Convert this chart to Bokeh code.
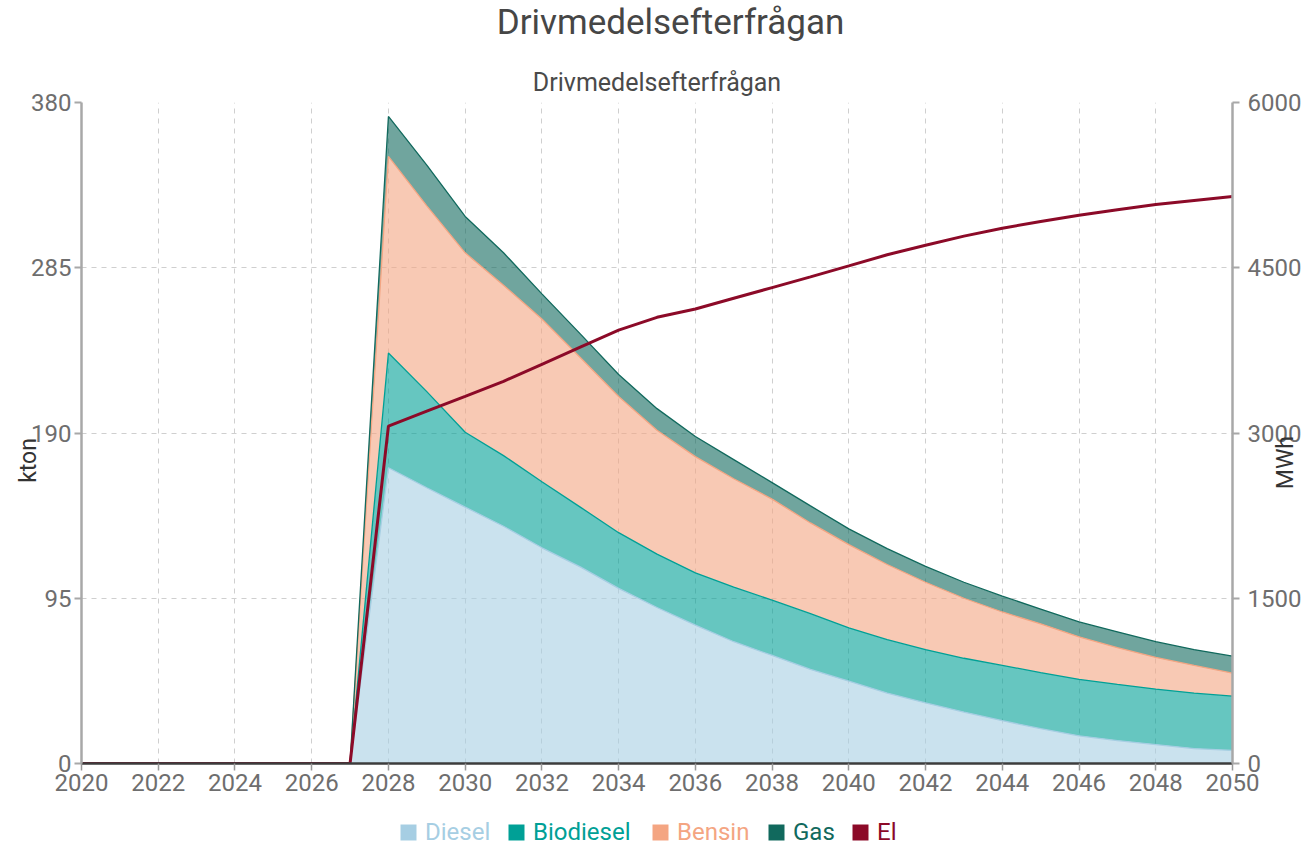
import math
from bokeh.plotting import figure
from bokeh.layouts import column
from bokeh.models import (Range1d, LinearAxis, FixedTicker, Label, Legend, LegendItem,
                          ColumnDataSource)
from bokeh.embed import file_html
from bokeh.resources import INLINE
from bokeh.transform import stack

# ---- data -------------------------------------------------------------
years = list(range(2020, 2051))
diesel = [0, 0, 0, 0, 0, 0, 0, 0,
          170.0, 158.5, 147.4, 136.4, 124.0, 113.0, 100.7, 89.7, 79.5, 70.0,
          62.1, 54.1, 47.3, 40.5, 34.8, 29.6, 24.6, 20.0, 15.9, 13.2, 10.9, 8.6, 7.5]
biodiesel = [0, 0, 0, 0, 0, 0, 0, 0,
             66.0, 55.3, 43.0, 40.6, 38.0, 34.4, 32.0, 30.7, 30.1, 31.4,
             31.8, 32.0, 30.7, 30.7, 30.7, 30.9, 31.8, 32.3, 32.5, 32.3, 31.9, 31.9, 31.2]
bensin = [0, 0, 0, 0, 0, 0, 0, 0,
          113.0, 106.8, 103.2, 98.0, 93.5, 86.0, 78.3, 71.2, 66.8, 62.3,
          58.1, 52.2, 47.8, 43.2, 38.7, 34.5, 30.7, 28.0, 24.4, 21.1, 18.2, 15.9, 13.2]
gas = [0, 0, 0, 0, 0, 0, 0, 0,
       23.0, 23.4, 20.9, 18.6, 14.5, 13.6, 12.6, 12.4, 11.6, 11.0,
       9.5, 9.8, 9.1, 9.1, 9.1, 9.2, 9.1, 8.5, 8.6, 9.1, 9.0, 9.1, 9.8]
el = [0, 0, 0, 0, 0, 0, 0, 0,
      3062, 3198, 3333, 3469, 3624, 3779, 3934, 4050, 4125, 4223,
      4320, 4417, 4517, 4618, 4704, 4787, 4859, 4920, 4977, 5027, 5074, 5110, 5146]

series_names = ["Diesel", "Biodiesel", "Bensin", "Gas"]
series_keys = ["diesel", "biodiesel", "bensin", "gas"]
series_colors = ["#a6cee3", "#00a096", "#f4a582", "#11695d"]
el_name = "El"
el_color = "#8c0a28"

left_ticks = [0, 95, 190, 285, 380]
right_ticks = [0, 1500, 3000, 4500, 6000]
x_ticks = list(range(2020, 2051, 2))

title_text = "Drivmedelsefterfrågan"
subtitle_text = "Drivmedelsefterfrågan"
left_label = "kton"
right_label = "MWh"

FONT = "Roboto"
TICK_COLOR = "#6e6e6e"
TICK_SIZE = "24px"
W = 1300

src = ColumnDataSource(dict(year=years, diesel=diesel, biodiesel=biodiesel,
                            bensin=bensin, gas=gas, el=el))

# ---- top strip with the main title -----------------------------------
top = figure(width=W, height=50, output_backend="svg", toolbar_location=None,
             x_axis_location=None, y_axis_location=None, min_border=0,
             x_range=Range1d(0, 1), y_range=Range1d(0, 1))
top.outline_line_color = None
top.grid.visible = False
top.add_layout(Label(x=589, y=28, x_units="screen", y_units="screen", text=title_text,
                     text_font=FONT, text_font_size="35px", text_color="#464646",
                     text_align="center", text_baseline="middle"))

# ---- main chart -------------------------------------------------------
p = figure(frame_width=1151, frame_height=661, x_range=Range1d(2020, 2050), y_range=Range1d(0, 380),
           output_backend="svg", toolbar_location=None,
           min_border_left=81, min_border_right=0, min_border_top=52, min_border_bottom=50)
p.title.text = subtitle_text
p.title.align = "center"
p.title.offset = 13
p.title.standoff = 11
p.title.text_font = FONT
p.title.text_font_size = "25px"
p.title.text_font_style = "normal"
p.title.text_color = "#4a4a4a"
p.outline_line_color = None

p.extra_y_ranges = {"el": Range1d(0, 6000)}

for g, tk in ((p.xgrid, x_ticks), (p.ygrid, left_ticks)):
    g.ticker = FixedTicker(ticks=tk)
    g.grid_line_color = "#cfcfcf"
    g.grid_line_dash = "5 5"
    g.grid_line_width = 1

xa = p.xaxis[0]
xa.ticker = FixedTicker(ticks=x_ticks)
xa.axis_line_color = "#3c3c3c"
xa.axis_line_width = 2.5
xa.major_tick_line_color = "#999999"
xa.major_tick_line_width = 1.5
xa.major_tick_out = 7
xa.major_tick_in = 0
xa.minor_tick_line_color = None
xa.major_label_text_font = FONT
xa.major_label_text_font_size = TICK_SIZE
xa.major_label_text_color = TICK_COLOR
xa.major_label_standoff = 3


def style_y(ax, standoff):
    ax.axis_line_color = "#a8a8a8"
    ax.axis_line_width = 2.5
    ax.major_tick_line_color = "#a8a8a8"
    ax.major_tick_line_width = 2
    ax.major_tick_out = 7
    ax.major_tick_in = 0
    ax.minor_tick_line_color = None
    ax.major_label_text_font = FONT
    ax.major_label_text_font_size = TICK_SIZE
    ax.major_label_text_color = TICK_COLOR
    ax.major_label_standoff = standoff


ya = p.yaxis[0]
ya.ticker = FixedTicker(ticks=left_ticks)
style_y(ya, 3)

ra = LinearAxis(y_range_name="el", ticker=FixedTicker(ticks=right_ticks))
style_y(ra, 8)
p.add_layout(ra, "right")

# axis names as labels in the side panels (overlapping the tick labels like the original)
p.add_layout(Label(x=2018.62, y=174.2, text=left_label,
                   angle=math.pi / 2, text_font=FONT, text_font_size="23px", text_color="#333333",
                   text_align="center", text_baseline="middle"), "left")
p.add_layout(Label(x=2051.38, y=173.0, text=right_label,
                   angle=math.pi / 2, text_font=FONT, text_font_size="23px", text_color="#333333",
                   text_align="center", text_baseline="middle"), "right")

p.varea_stack(stackers=series_keys, x="year", color=series_colors, fill_alpha=0.6, source=src)
for i, c in enumerate(series_colors):
    p.line(x="year", y=stack(*series_keys[:i + 1]), line_color=c, line_width=1.3, source=src)

p.line(x="year", y="el", y_range_name="el", line_color=el_color, line_width=3, source=src)

# ---- bottom strip with legend (one legend per entry, own text colour) --
bot = figure(width=W, height=33, output_backend="svg", toolbar_location=None,
             x_axis_location=None, y_axis_location=None, min_border=0,
             x_range=Range1d(0, 1), y_range=Range1d(0, 1))
bot.outline_line_color = None
bot.grid.visible = False
legend_names = series_names + [el_name]
legend_keys = series_keys + ["el"]
legend_colors = series_colors + [el_color]
legend_x = [317, 425, 569, 685, 769]
for name, key, c, lx in zip(legend_names, legend_keys, legend_colors, legend_x):
    # proxy renderer (outside this strip's ranges) that only supplies the legend swatch
    r = bot.varea(x="year", y1=0, y2=key, source=src, fill_color=c, fill_alpha=1.0)
    lg = Legend(items=[LegendItem(label=name, renderers=[r])], location=(lx, 0),
                orientation="horizontal", padding=0, margin=0, spacing=0,
                glyph_width=20, glyph_height=20, label_standoff=7, label_height=20,
                label_text_font=FONT, label_text_font_size="24px", label_text_color=c,
                border_line_color=None, background_fill_alpha=0)
    bot.add_layout(lg, "center")

layout = column(top, p, bot, spacing=0)
open("out.html", "w").write(file_html(layout, INLINE))
